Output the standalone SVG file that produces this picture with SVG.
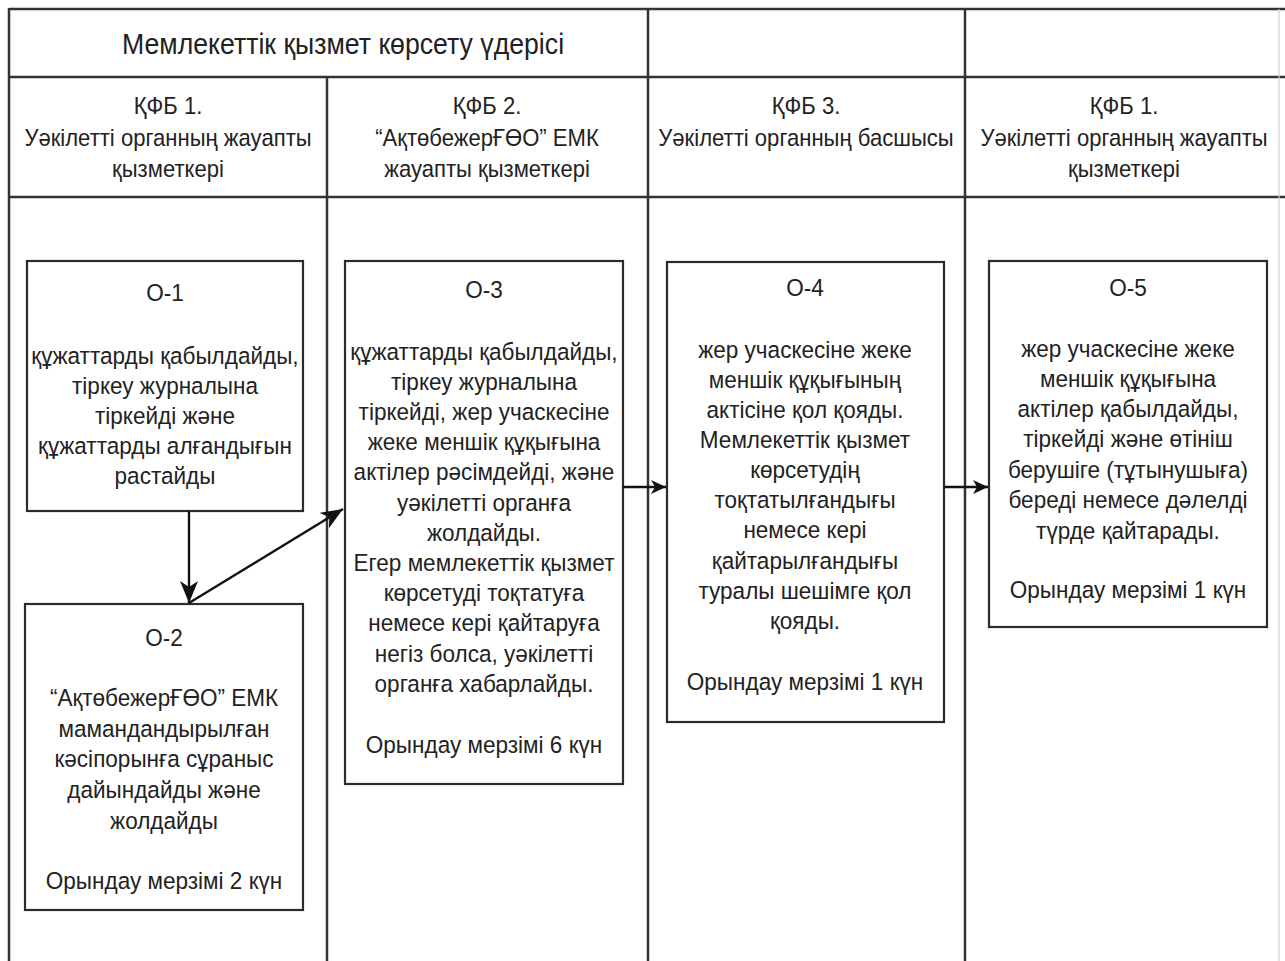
<svg xmlns="http://www.w3.org/2000/svg" width="1285" height="961" viewBox="0 0 1285 961">
  <style>
    text { font-family: "Liberation Sans", Arial, sans-serif; fill: #222; text-anchor: middle; }
    .head { font-size: 29px; }
    .lane { font-size: 24px; }
    .body { font-size: 24.5px; }
    .grid { stroke: #333; stroke-width: 2.5; fill: none; }
    .box { fill: #fff; stroke: #2b2b2b; stroke-width: 2.2; }
    .link { stroke: #111; stroke-width: 2.4; fill: none; }
  </style>
  <defs>
    <marker id="arrow" markerUnits="userSpaceOnUse" markerWidth="24" markerHeight="20" refX="22" refY="9" orient="auto">
      <path d="M0,0 L22,9 L0,18 L6,9 z" fill="#111"/>
    </marker>
    <marker id="arrowSmall" markerUnits="userSpaceOnUse" markerWidth="16" markerHeight="16" refX="15" refY="7" orient="auto">
      <path d="M0,0 L15,7 L0,14 L4,7 z" fill="#111"/>
    </marker>
  </defs>

  <rect width="1285" height="961" fill="#fff"/>

  <!-- swimlane table -->
  <g id="table">
    <line class="grid" x1="9" y1="9" x2="1285" y2="9"/>
    <line class="grid" x1="9" y1="77" x2="1285" y2="77"/>
    <line class="grid" x1="9" y1="197" x2="1285" y2="197"/>
    <line class="grid" x1="9" y1="8" x2="9" y2="961"/>
    <line class="grid" x1="327" y1="77" x2="327" y2="961"/>
    <line class="grid" x1="648" y1="9" x2="648" y2="961"/>
    <line class="grid" x1="965" y1="9" x2="965" y2="961"/>
    <line x1="1279" y1="9" x2="1279" y2="961" stroke="#d0d0d0" stroke-width="1.2"/>
    <g transform="translate(343 0) scale(0.92 1)">
      <text class="head" x="0" y="54">Мемлекеттік қызмет көрсету үдерісі</text>
    </g>
    <g transform="translate(168 0) scale(0.92 1)">
      <text class="lane" x="0" y="114">ҚФБ 1.</text>
      <text class="lane" x="0" y="146">Уәкілетті органның жауапты</text>
      <text class="lane" x="0" y="177">қызметкері</text>
    </g>
    <g transform="translate(487 0) scale(0.92 1)">
      <text class="lane" x="0" y="114">ҚФБ 2.</text>
      <text class="lane" x="0" y="146">“АқтөбежерҒӨО” ЕМК</text>
      <text class="lane" x="0" y="177">жауапты қызметкері</text>
    </g>
    <g transform="translate(806 0) scale(0.92 1)">
      <text class="lane" x="0" y="114">ҚФБ 3.</text>
      <text class="lane" x="0" y="146">Уәкілетті органның басшысы</text>
    </g>
    <g transform="translate(1124 0) scale(0.92 1)">
      <text class="lane" x="0" y="114">ҚФБ 1.</text>
      <text class="lane" x="0" y="146">Уәкілетті органның жауапты</text>
      <text class="lane" x="0" y="177">қызметкері</text>
    </g>
  </g>

  <g id="O-1">
    <rect class="box" x="27" y="261" width="276" height="250"/>
    <g transform="translate(165 0) scale(0.92 1)">
      <text class="body" x="0" y="301">О-1</text>
      <text class="body" x="0" y="364">құжаттарды қабылдайды,</text>
      <text class="body" x="0" y="394">тіркеу журналына</text>
      <text class="body" x="0" y="424">тіркейді және</text>
      <text class="body" x="0" y="454">құжаттарды алғандығын</text>
      <text class="body" x="0" y="484">растайды</text>
    </g>
  </g>

  <g id="O-2">
    <rect class="box" x="25" y="604" width="278" height="306"/>
    <g transform="translate(164 0) scale(0.92 1)">
      <text class="body" x="0" y="646">О-2</text>
      <text class="body" x="0" y="706">“АқтөбежерҒӨО” ЕМК</text>
      <text class="body" x="0" y="737">мамандандырылған</text>
      <text class="body" x="0" y="767">кәсіпорынға сұраныс</text>
      <text class="body" x="0" y="798">дайындайды және</text>
      <text class="body" x="0" y="829">жолдайды</text>
      <text class="body" x="0" y="889">Орындау мерзімі 2 күн</text>
    </g>
  </g>

  <g id="O-3">
    <rect class="box" x="345" y="261" width="278" height="523"/>
    <g transform="translate(484 0) scale(0.92 1)">
      <text class="body" x="0" y="298">О-3</text>
      <text class="body" x="0" y="360">құжаттарды қабылдайды,</text>
      <text class="body" x="0" y="390">тіркеу журналына</text>
      <text class="body" x="0" y="420">тіркейді, жер учаскесіне</text>
      <text class="body" x="0" y="450">жеке меншік құқығына</text>
      <text class="body" x="0" y="480">актілер рәсімдейді, және</text>
      <text class="body" x="0" y="511">уәкілетті органға</text>
      <text class="body" x="0" y="541">жолдайды.</text>
      <text class="body" x="0" y="571">Егер мемлекеттік қызмет</text>
      <text class="body" x="0" y="601">көрсетуді тоқтатуға</text>
      <text class="body" x="0" y="631">немесе кері қайтаруға</text>
      <text class="body" x="0" y="662">негіз болса, уәкілетті</text>
      <text class="body" x="0" y="692">органға хабарлайды.</text>
      <text class="body" x="0" y="753">Орындау мерзімі 6 күн</text>
    </g>
  </g>

  <g id="O-4">
    <rect class="box" x="667" y="262" width="277" height="460"/>
    <g transform="translate(805 0) scale(0.92 1)">
      <text class="body" x="0" y="296">О-4</text>
      <text class="body" x="0" y="358">жер учаскесіне жеке</text>
      <text class="body" x="0" y="388">меншік құқығының</text>
      <text class="body" x="0" y="418">актісіне қол қояды.</text>
      <text class="body" x="0" y="448">Мемлекеттік қызмет</text>
      <text class="body" x="0" y="478">көрсетудің</text>
      <text class="body" x="0" y="508">тоқтатылғандығы</text>
      <text class="body" x="0" y="538">немесе кері</text>
      <text class="body" x="0" y="569">қайтарылғандығы</text>
      <text class="body" x="0" y="599">туралы шешімге қол</text>
      <text class="body" x="0" y="629">қояды.</text>
      <text class="body" x="0" y="690">Орындау мерзімі 1 күн</text>
    </g>
  </g>

  <g id="O-5">
    <rect class="box" x="989" y="261" width="278" height="366"/>
    <g transform="translate(1128 0) scale(0.92 1)">
      <text class="body" x="0" y="296">О-5</text>
      <text class="body" x="0" y="357">жер учаскесіне жеке</text>
      <text class="body" x="0" y="387">меншік құқығына</text>
      <text class="body" x="0" y="417">актілер қабылдайды,</text>
      <text class="body" x="0" y="447">тіркейді және өтініш</text>
      <text class="body" x="0" y="478">берушіге (тұтынушыға)</text>
      <text class="body" x="0" y="508">береді немесе дәлелді</text>
      <text class="body" x="0" y="539">түрде қайтарады.</text>
      <text class="body" x="0" y="598">Орындау мерзімі 1 күн</text>
    </g>
  </g>

  <!-- flow connectors -->
  <g id="connectors">
    <line class="link" x1="189" y1="511" x2="189" y2="603" marker-end="url(#arrow)"/>
    <line class="link" x1="189" y1="603" x2="343" y2="509" marker-end="url(#arrow)"/>
    <line class="link" x1="623" y1="487" x2="666" y2="487" marker-end="url(#arrowSmall)"/>
    <line class="link" x1="944" y1="487" x2="988" y2="487" marker-end="url(#arrowSmall)"/>
  </g>
</svg>
